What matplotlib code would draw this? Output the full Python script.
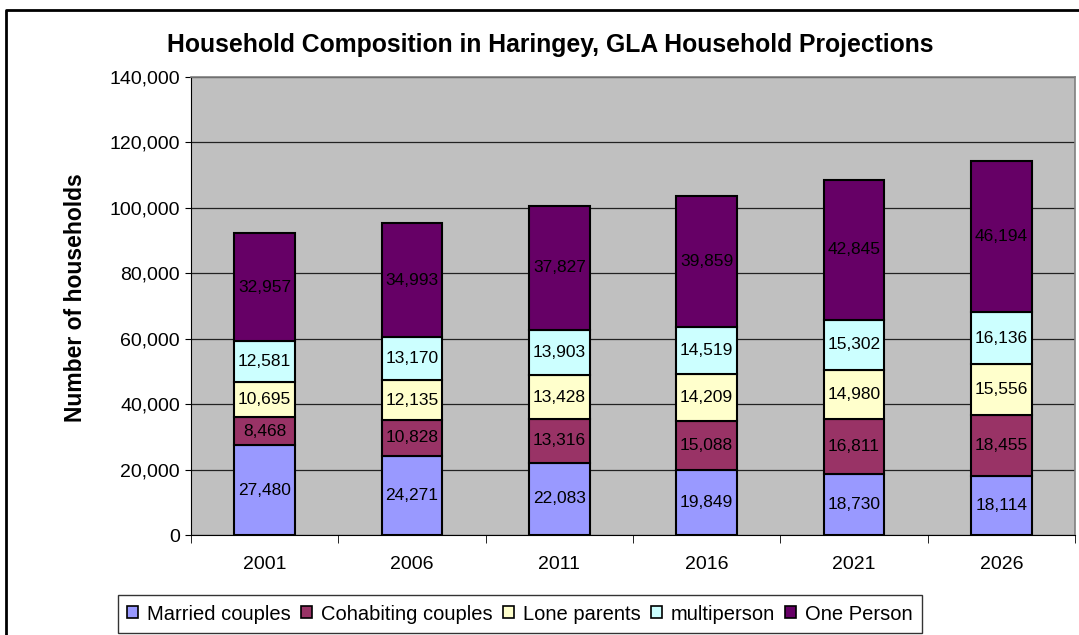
import matplotlib
matplotlib.use("Agg")
import matplotlib.pyplot as plt
from matplotlib.patches import Patch
from matplotlib.lines import Line2D
from matplotlib.ticker import FuncFormatter, MultipleLocator
import numpy as np

plt.rcParams['font.family'] = ['Liberation Sans', 'DejaVu Sans']

years = ["2001", "2006", "2011", "2016", "2021", "2026"]
series_names = ["Married couples", "Cohabiting couples", "Lone parents", "multiperson", "One Person"]
married = [27480, 24271, 22083, 19849, 18730, 18114]
cohabiting = [8468, 10828, 13316, 15088, 16811, 18455]
lone_parents = [10695, 12135, 13428, 14209, 14980, 15556]
multiperson = [12581, 13170, 13903, 14519, 15302, 16136]
one_person = [32957, 34993, 37827, 39859, 42845, 46194]
colors = ["#9999FF", "#993366", "#FFFFCC", "#CCFFFF", "#660066"]

W, H = 1079, 635
fig = plt.figure(figsize=(W / 100, H / 100), dpi=100)
fig.patch.set_facecolor("white")

left, right, top, bottom = 191, 1075, 77, 535
ax = fig.add_axes([left / W, 1 - bottom / H, (right - left) / W, (bottom - top) / H])
ax.set_facecolor("#C0C0C0")

x = np.arange(len(years))
data = [married, cohabiting, lone_parents, multiperson, one_person]
base = np.zeros(len(years))
for vals, col in zip(data, colors):
    vals = np.array(vals, dtype=float)
    ax.bar(x, vals, bottom=base, width=0.41, color=col, edgecolor="black",
           linewidth=1.5, zorder=3)
    for xi, b, v in zip(x, base, vals):
        ax.text(xi, b + v / 2, f"{int(v):,}", ha="center", va="center",
                fontsize=12.5, color="black", zorder=4)
    base += vals

ax.set_xlim(-0.5, len(years) - 0.5)
ax.set_ylim(0, 140000)
ax.yaxis.set_major_locator(MultipleLocator(20000))
ax.yaxis.set_major_formatter(FuncFormatter(lambda v, p: f"{int(v):,}"))
ax.grid(axis="y", color="#222222", linewidth=0.9, zorder=1)
ax.set_axisbelow(True)

ax.set_xticks(x)
ax.set_xticklabels(years, fontsize=14)
ax.set_xticks(np.arange(-0.5, len(years)), minor=True)
ax.tick_params(axis="x", which="major", length=0, pad=15)
ax.tick_params(axis="x", which="minor", length=6, direction="out", color="black")
ax.tick_params(axis="y", length=4, direction="out", labelsize=14, pad=4)

for s in ["top", "right"]:
    ax.spines[s].set_color("#808080")
    ax.spines[s].set_linewidth(1.2)
ax.spines["left"].set_color("black")
ax.spines["bottom"].set_color("black")

fig.text(76 / W, 1 - 298 / H, "Number of households", rotation=90,
         ha="center", va="center", fontsize=16.5, fontweight="bold")

fig.text(550 / W, 1 - 45 / H, "Household Composition in Haringey, GLA Household Projections",
         ha="center", va="center", fontsize=17.8, fontweight="bold")

handles = [Patch(facecolor=c, edgecolor="black", linewidth=1.2) for c in colors]
leg = fig.legend(handles, series_names, loc="center", bbox_to_anchor=(520 / W, 1 - 614 / H),
                 ncol=5, fontsize=14.5, frameon=True, fancybox=False, edgecolor="black",
                 handlelength=0.55, handleheight=0.55, handletextpad=0.45, columnspacing=0.5,
                 borderpad=0.45, borderaxespad=0)
leg.get_frame().set_linewidth(1.0)

# outer chart frame (top and left edges visible)
fig.add_artist(Line2D([6 / W, 6 / W, 1.0], [0.0, 1 - 10 / H, 1 - 10 / H],
                      color="black", linewidth=2, transform=fig.transFigure))

fig.savefig("out.png", dpi=100)
